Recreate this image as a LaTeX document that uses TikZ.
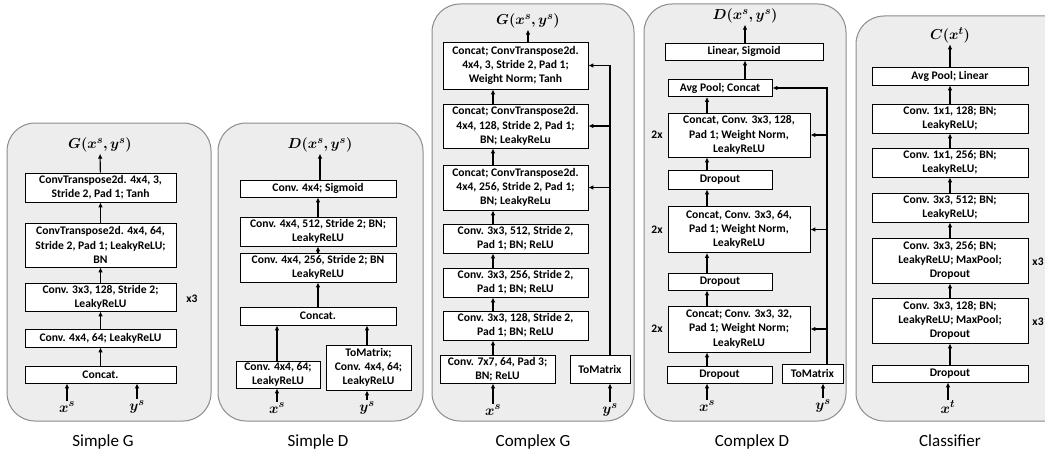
\documentclass[tikz,border=0pt]{standalone}
\usepackage{fontspec}
\setmainfont{Carlito}
\usepackage{bm}
\usetikzlibrary{arrows.meta}
\definecolor{cpanel}{HTML}{EDEDED}
\definecolor{cedge}{HTML}{8C8C8C}
\tikzset{
  every picture/.style={line width=0.8pt},
  panel/.style={draw=cedge, fill=cpanel, rounded corners=28pt, line width=1pt},
  layer/.style={draw, fill=white, align=center, inner sep=1pt, font=\bfseries\fontsize{11.6}{14.2}\selectfont},
  arrow/.style={-{Latex[length=5pt, width=4.6pt]}, line width=1.1pt},
  io/.style={inner sep=1pt, font=\fontsize{15}{15}\selectfont},
  rep/.style={font=\bfseries\fontsize{11.5}{12}\selectfont},
  caption/.style={font=\fontsize{17}{19}\selectfont},
}

\begin{document}
\begin{tikzpicture}[x=1pt, y=-1pt]
  \useasboundingbox (0,0) rectangle (1045,452);
  % panels
  \draw[panel] (7,123) rectangle (211,421);
  \draw[panel] (218,123) rectangle (423,421);
  \draw[panel] (432,4) rectangle (634,421);
  \draw[panel] (644,4) rectangle (846,421);
  \draw[panel] (856,16) rectangle (1075,421);

  % Simple G
  \node[layer, minimum width=151pt, minimum height=29pt] (sg5) at (100.5,187.5) {ConvTranspose2d. 4x4, 3,\\ Stride 2, Pad 1; Tanh};
  \node[layer, minimum width=151pt, minimum height=44pt] (sg4) at (100.5,245) {ConvTranspose2d. 4x4, 64,\\ Stride 2, Pad 1; LeakyReLU;\\ BN};
  \node[layer, minimum width=151pt, minimum height=28pt] (sg3) at (100.5,297) {Conv. 3x3, 128, Stride 2;\\ LeakyReLU};
  \node[layer, minimum width=151pt, minimum height=18pt] (sg2) at (100.5,338) {Conv. 4x4, 64; LeakyReLU};
  \node[layer, minimum width=151pt, minimum height=17pt] (sg1) at (100.5,374.5) {Concat.};
  \node[rep] (sgrep) at (192,299) {x3};
  \node[io] (sgx) at (67,407) {$\bm{x^s}$};
  \node[io] (sgy) at (137,407) {$\bm{y^s}$};
  \node[io] (sgout) at (100,145) {$\bm{G(x^s, y^s)}$};
  \foreach \a/\b in {sg1/sg2, sg2/sg3, sg3/sg4, sg4/sg5, sg5/sgout}
    \draw[arrow] (\a) -- (\b);
  \draw[arrow] (sgx) -- (sgx |- sg1.south);
  \draw[arrow] (sgy) -- (sgy |- sg1.south);
  \node[caption] (sgcap) at (103,442) {Simple G};

  % Simple D
  \node[layer, minimum width=156pt, minimum height=17pt] (sd5) at (318,188.5) {Conv. 4x4; Sigmoid};
  \node[layer, minimum width=156pt, minimum height=29pt] (sd4) at (318,231.5) {Conv. 4x4, 512, Stride 2; BN;\\ LeakyReLU};
  \node[layer, minimum width=156pt, minimum height=29pt] (sd3) at (318,267.5) {Conv. 4x4, 256, Stride 2; BN\\ LeakyReLU};
  \node[layer, minimum width=156pt, minimum height=18pt] (sd2) at (318,316) {Concat.};
  \node[layer, minimum width=84pt, minimum height=27pt] (sdxa) at (278,374.5) {Conv. 4x4, 64;\\ LeakyReLU};
  \node[layer, minimum width=85pt, minimum height=45pt] (sdya) at (368.5,367.5) {ToMatrix;\\ Conv. 4x4, 64;\\ LeakyReLU};
  \node[io] (sdx) at (277,408) {$\bm{x^s}$};
  \node[io] (sdy) at (367,408) {$\bm{y^s}$};
  \node[io] (sdout) at (320,145) {$\bm{D(x^s, y^s)}$};
  \foreach \a/\b in {sd2/sd3, sd3/sd4, sd4/sd5}
    \draw[arrow] (\a) -- (\b);
  \draw[arrow] (sd5.north -| sdout) -- (sdout);
  \draw[arrow] (sdx) -- (sdx |- sdxa.south);
  \draw[arrow] (sdy) -- (sdy |- sdya.south);
  \draw[arrow] (sdxa.north -| sdx) -- (sdx |- sd2.south);
  \draw[arrow] (sdya.north -| sdy) -- (sdy |- sd2.south);
  \node[caption] (sdcap) at (318,442) {Simple D};

  % Complex G
  \node[layer, minimum width=145pt, minimum height=47pt] (cg7) at (515.5,65.5) {Concat; ConvTranspose2d.\\ 4x4, 3, Stride 2, Pad 1;\\ Weight Norm; Tanh};
  \node[layer, minimum width=145pt, minimum height=44pt] (cg6) at (515.5,126) {Concat; ConvTranspose2d.\\ 4x4, 128, Stride 2, Pad 1;\\ BN; LeakyReLu};
  \node[layer, minimum width=145pt, minimum height=45pt] (cg5) at (515.5,187.5) {Concat; ConvTranspose2d.\\ 4x4, 256, Stride 2, Pad 1;\\ BN; LeakyReLu};
  \node[layer, minimum width=145pt, minimum height=29pt] (cg4) at (515.5,238.5) {Conv. 3x3, 512, Stride 2,\\ Pad 1; BN; ReLU};
  \node[layer, minimum width=145pt, minimum height=29pt] (cg3) at (515.5,282.5) {Conv. 3x3, 256, Stride 2,\\ Pad 1; BN; ReLU};
  \node[layer, minimum width=145pt, minimum height=29pt] (cg2) at (515.5,325.5) {Conv. 3x3, 128, Stride 2,\\ Pad 1; BN; ReLU};
  \node[layer, minimum width=115pt, minimum height=28pt] (cg1) at (497.5,369) {Conv. 7x7, 64, Pad 3;\\ BN; ReLU};
  \node[layer, minimum width=60pt, minimum height=28pt] (cgm) at (600,369) {ToMatrix};
  \coordinate (cgbus) at (610,0);
  \node[io] (cgx) at (493,410) {$\bm{x^s}$};
  \node[io] (cgy) at (610,410) {$\bm{y^s}$};
  \node[io] (cgout) at (528,21) {$\bm{G(x^s, y^s)}$};
  \foreach \a/\b in {cg1/cg2, cg2/cg3, cg3/cg4, cg4/cg5, cg5/cg6, cg6/cg7}
    \draw[arrow] (\a.north -| cgx) -- (\b.south -| cgx);
  \draw[arrow] (cg7.north -| cgout) -- (cgout);
  \draw[arrow] (cgx) -- (cgx |- cg1.south);
  \draw[arrow] (cgy) -- (cgy |- cgm.south);
  \draw[arrow] (cgm.north -| cgbus) -- (cgbus |- cg7.east) -- (cg7.east);
  \foreach \b in {cg6, cg5}
    \draw[arrow] (cgbus |- \b.east) -- (\b.east);
  \node[caption] (cgcap) at (533,442) {Complex G};

  % Complex D
  \node[layer, minimum width=158pt, minimum height=17pt] (cd8) at (744,51.5) {Linear, Sigmoid};
  \node[layer, minimum width=104pt, minimum height=17pt] (cd7) at (720,88) {Avg Pool; Concat};
  \node[layer, minimum width=142pt, minimum height=44pt] (cd6) at (739,135) {Concat, Conv. 3x3, 128,\\ Pad 1; Weight Norm,\\ LeakyReLU};
  \node[layer, minimum width=104pt, minimum height=19pt] (cd5) at (720,179.5) {Dropout};
  \node[layer, minimum width=142pt, minimum height=46pt] (cd4) at (739,229.5) {Concat, Conv. 3x3, 64,\\ Pad 1; Weight Norm,\\ LeakyReLU};
  \node[layer, minimum width=104pt, minimum height=17pt] (cd3) at (720,281.5) {Dropout};
  \node[layer, minimum width=142pt, minimum height=46pt] (cd2) at (739,329) {Concat; Conv. 3x3, 32,\\ Pad 1; Weight Norm;\\ LeakyReLU};
  \node[layer, minimum width=105pt, minimum height=17pt] (cd1) at (719.5,374.5) {Dropout};
  \node[layer, minimum width=61pt, minimum height=19pt] (cdm) at (812.5,373.5) {ToMatrix};
  \coordinate (cdbus) at (827,0);
  \foreach \b in {cd6, cd4, cd2}
    \node[rep] at (657, 0 |- \b.east) {2x};
  \node[io] (cdx) at (707,406) {$\bm{x^s}$};
  \node[io] (cdy) at (823,406) {$\bm{y^s}$};
  \node[io] (cdout) at (745,16) {$\bm{D(x^s, y^s)}$};
  \foreach \a/\b in {cd1/cd2, cd2/cd3, cd3/cd4, cd4/cd5, cd5/cd6, cd6/cd7}
    \draw[arrow] (\a.north -| cdx) -- (\b.south -| cdx);
  \draw[arrow] (cd7.north -| cdout) -- (cd8.south -| cdout);
  \draw[arrow] (cd8.north -| cdout) -- (cdout);
  \draw[arrow] (cdx) -- (cdx |- cd1.south);
  \draw[arrow] (cdy) -- (cdy |- cdm.south);
  \draw[arrow] (cdm.north -| cdbus) -- (cdbus |- cd7.east) -- (cd7.east);
  \foreach \b in {cd6, cd4, cd2}
    \draw[arrow] (cdbus |- \b.east) -- (\b.east);
  \node[caption] (cdcap) at (752,442) {Complex D};

  % Classifier
  \node[layer, minimum width=156pt, minimum height=18pt] (cl7) at (950,76) {Avg Pool; Linear};
  \node[layer, minimum width=156pt, minimum height=29pt] (cl6) at (950,118.5) {Conv. 1x1, 128; BN;\\ LeakyReLU;};
  \node[layer, minimum width=156pt, minimum height=29pt] (cl5) at (950,162.5) {Conv. 1x1, 256; BN;\\ LeakyReLU;};
  \node[layer, minimum width=156pt, minimum height=29pt] (cl4) at (950,207.5) {Conv. 3x3, 512; BN;\\ LeakyReLU;};
  \node[layer, minimum width=156pt, minimum height=45pt] (cl3) at (950,260.5) {Conv. 3x3, 256; BN;\\ LeakyReLU; MaxPool;\\ Dropout};
  \node[layer, minimum width=156pt, minimum height=45pt] (cl2) at (950,320.5) {Conv. 3x3, 128; BN;\\ LeakyReLU; MaxPool;\\ Dropout};
  \node[layer, minimum width=156pt, minimum height=17pt] (cl1) at (950,373.5) {Dropout};
  \node[rep, anchor=east, inner sep=0.5pt] at (1044.5,262) {x3};
  \node[rep, anchor=east, inner sep=0.5pt] at (1044.5,322) {x3};
  \node[io] (clx) at (948,407) {$\bm{x^t}$};
  \node[io] (clout) at (950,35) {$\bm{C(x^t)}$};
  \foreach \a/\b in {cl1/cl2, cl2/cl3, cl3/cl4, cl4/cl5, cl5/cl6, cl6/cl7, cl7/clout}
    \draw[arrow] (\a) -- (\b);
  \draw[arrow] (clx) -- (clx |- cl1.south);
  \node[caption] (clcap) at (950,441) {Classifier};
\end{tikzpicture}
\end{document}
